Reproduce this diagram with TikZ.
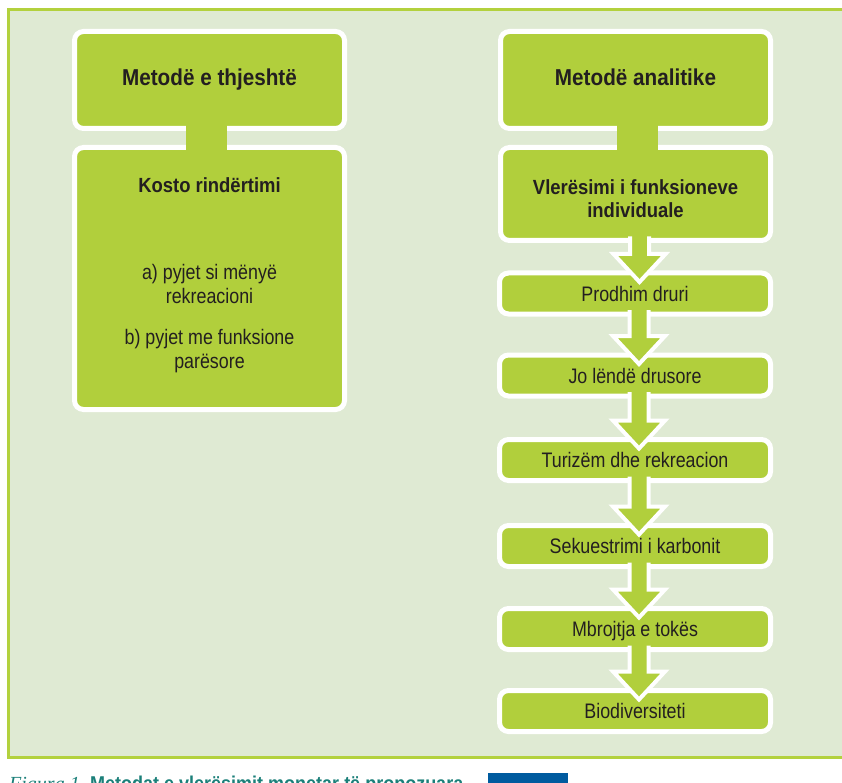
\documentclass[tikz,border=0pt]{standalone}
\usepackage{fontspec}
\setmainfont{Liberation Sans}
\newfontfamily\regf{Liberation Sans}[FakeStretch=0.85]
\newfontfamily\hdf{Liberation Sans}[FakeStretch=0.9]
\newfontfamily\capser{Liberation Serif}
\usetikzlibrary{calc}
\definecolor{leaf}{RGB}{177,207,60}
\definecolor{panel}{RGB}{223,234,211}
\definecolor{panelline}{RGB}{179,209,62}
\definecolor{ink}{RGB}{35,31,32}
\definecolor{capteal}{RGB}{27,127,121}
\definecolor{capblue}{RGB}{0,91,159}
\tikzset{
  box/.style={draw=white, line width=5pt, fill=leaf, rounded corners=9pt, outer sep=0pt, inner sep=0pt, text=ink},
  bigbox/.style={box, minimum width=270pt},
  smallbox/.style={box, minimum width=271pt, minimum height=41pt, font=\regf\fontsize{21}{24}\selectfont, text height=15pt, text depth=0pt},
  titletext/.style={font=\hdf\bfseries\fontsize{23}{26}\selectfont, text height=16pt, text depth=5pt},
  subtext/.style={font=\hdf\bfseries\fontsize{20.5}{23}\selectfont, text=ink, align=center, inner sep=0pt},
  bodytext/.style={font=\regf\fontsize{21}{23.5}\selectfont, text=ink, align=center, inner sep=0pt},
  stem/.style={fill=leaf},
  flow/.style={draw=white, line width=4pt, fill=leaf, line join=miter},
}
\newcommand\flowarrow[2]{%
  \filldraw[flow] let \p1=(#1.south), \p2=(#2.north) in
    (\x1-5.5pt,\y1+4pt) -- (\x1-5.5pt,\y2+19pt) -- (\x1-22pt,\y2+19pt) --
    (\x1+4pt,\y2-9pt) -- (\x1+30pt,\y2+19pt) -- (\x1+13.5pt,\y2+19pt) --
    (\x1+13.5pt,\y1+4pt);}
\begin{document}
\begin{tikzpicture}[x=1pt,y=-1pt]
\useasboundingbox (0,0) rectangle (842,783);
% panel
\draw[panelline, line width=3pt, fill=panel] (8.5,9.5) rectangle (850,757.5);
% left column
\node[bigbox, minimum height=97pt, titletext] (L1) at (209.5,80) {Metodë e thjeshtë};
\node[bigbox, minimum height=262pt] (L2) at (209.5,278.5) {};
\fill[stem] ([xshift=-23.5pt,yshift=3pt]L1.south) rectangle ([xshift=17.5pt,yshift=-3pt]L2.north);
\node[subtext, anchor=base] (L2t) at (209.5,193) {Kosto rindërtimi};
\node[bodytext, anchor=base] (La) at (209.5,303) {a) pyjet si mënyë\\rekreacioni};
\node[bodytext, anchor=base] (Lb) at (209.5,368) {b) pyjet me funksione\\parësore};
% right column
\node[bigbox, minimum height=97pt, titletext] (R1) at (635.5,80) {Metodë analitike};
\node[bigbox, minimum height=93pt] (R2) at (635.5,194) {};
\fill[stem] ([xshift=-18.5pt,yshift=3pt]R1.south) rectangle ([xshift=22.5pt,yshift=-3pt]R2.north);
\node[subtext, anchor=base] (R2t) at (635.5,218) {Vlerësimi i funksioneve\\individuale};
\node[smallbox] (S1) at (635,293.5) {Prodhim druri};
\node[smallbox] (S2) at (635,375.5) {Jo lëndë drusore};
\node[smallbox] (S3) at (635,460) {Turizëm dhe rekreacion};
\node[smallbox] (S4) at (635,546) {Sekuestrimi i karbonit};
\node[smallbox] (S5) at (635,629) {Mbrojtja e tokës};
\node[smallbox] (S6) at (635,711) {Biodiversiteti};
\flowarrow{R2}{S1}
\flowarrow{S1}{S2}
\flowarrow{S2}{S3}
\flowarrow{S3}{S4}
\flowarrow{S4}{S5}
\flowarrow{S5}{S6}
% caption (cut by the page edge, as in the reference)
\node[anchor=base west, inner sep=0pt, text=capteal, font=\capser\itshape\fontsize{20}{22}\selectfont] (capA) at (9,790) {Figura 1.};
\node[anchor=base west, inner sep=0pt, text=capteal, font=\hdf\bfseries\fontsize{20}{22}\selectfont] (capB) at (90,790) {Metodat e vlerësimit monetar të propozuara};
\fill[capblue] (488,773) rectangle (568,790);
\end{tikzpicture}
\end{document}
